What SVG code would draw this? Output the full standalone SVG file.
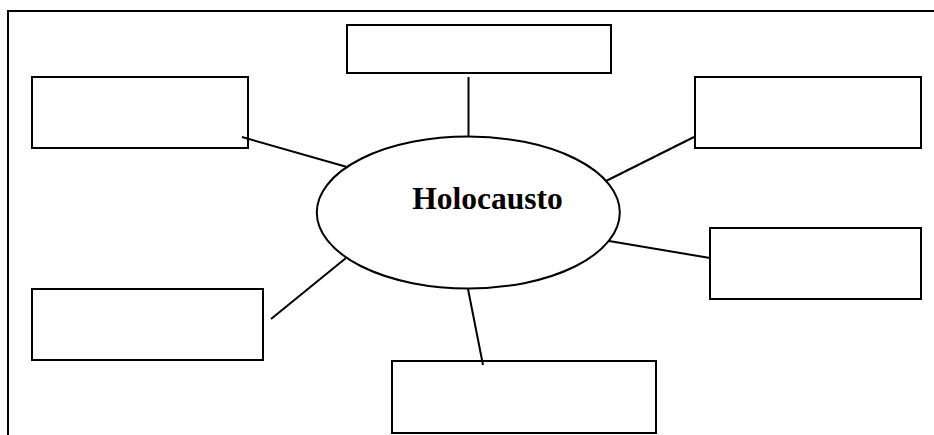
<svg xmlns="http://www.w3.org/2000/svg" width="934" height="435" viewBox="0 0 934 435">
<style>
.box{fill:#fff;stroke:#000;stroke-width:2}
.ln{stroke:#000;stroke-width:2;fill:none}
.frame{stroke:#000;stroke-width:2;fill:none}
.lbl{font-family:"Liberation Serif","Times New Roman",serif;font-weight:bold;font-size:31.5px;fill:#000}
</style>
<rect width="934" height="435" fill="#fff"/>
<path class="frame" d="M8,435 V11 H934"/>
<g id="center">
<ellipse class="box" cx="468.3" cy="212.5" rx="151.5" ry="76"/>
<text class="lbl" x="487.5" y="208.5" text-anchor="middle">Holocausto</text>
</g>
<g id="box-top"><rect class="box" x="347" y="25" width="264" height="48"/></g>
<g id="box-top-left"><rect class="box" x="32" y="77" width="216" height="71"/></g>
<g id="box-top-right"><rect class="box" x="695" y="77" width="226" height="71"/></g>
<g id="box-right"><rect class="box" x="710" y="228" width="211" height="71"/></g>
<g id="box-bottom-left"><rect class="box" x="32" y="289" width="231" height="71"/></g>
<g id="box-bottom"><rect class="box" x="392" y="361" width="264" height="72"/></g>
<g id="connectors">
<line class="ln" x1="242" y1="137" x2="347" y2="167"/>
<line class="ln" x1="468.5" y1="77" x2="468.5" y2="137"/>
<line class="ln" x1="694" y1="137" x2="606" y2="181"/>
<line class="ln" x1="271" y1="319" x2="346" y2="258"/>
<line class="ln" x1="468" y1="289" x2="483" y2="365"/>
<line class="ln" x1="609" y1="241" x2="710" y2="258"/>
</g>
</svg>
